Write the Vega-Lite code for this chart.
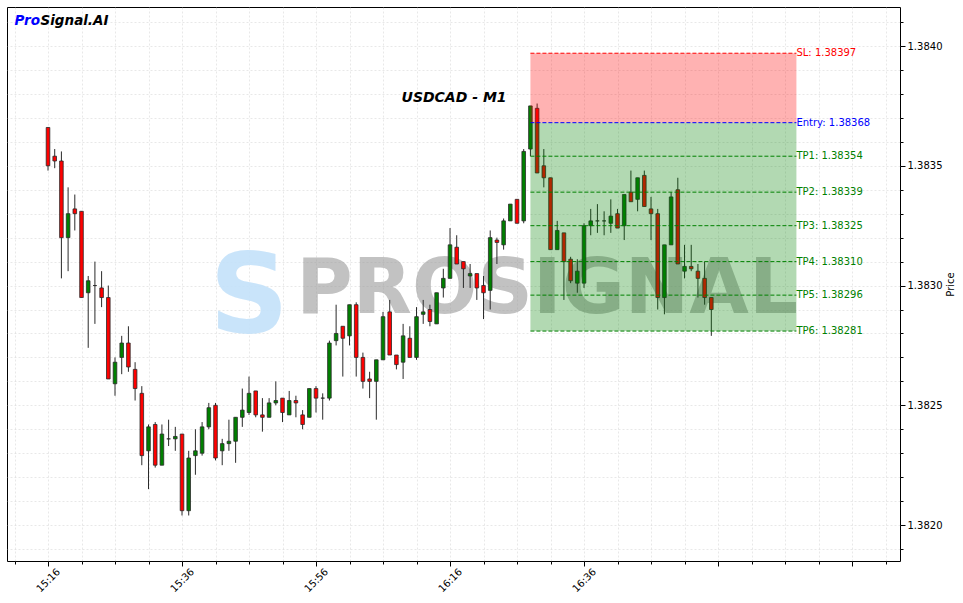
{
  "$schema": "https://vega.github.io/schema/vega-lite/v6.json",
  "width": 893,
  "height": 554,
  "autosize": {"type": "none"},
  "padding": {"left": 7, "top": 7, "right": 63, "bottom": 42},
  "background": "white",
  "config": {
    "view": {"stroke": "#000000", "strokeWidth": 1},
    "font": "DejaVu Sans",
    "axis": {"labelFont": "DejaVu Sans", "titleFont": "DejaVu Sans", "labelColor": "#000", "titleColor": "#000", "tickColor": "#000", "labelFontSize": 10, "titleFontSize": 10}
  },
  "datasets": {
    "candles": [
      {"i":0,"open":1.38366,"high":1.38366,"low":1.38348,"close":1.38350},
      {"i":1,"open":1.38354,"high":1.38357,"low":1.38349,"close":1.38352},
      {"i":2,"open":1.38352,"high":1.38356,"low":1.38303,"close":1.38320},
      {"i":3,"open":1.38320,"high":1.38341,"low":1.38306,"close":1.38330},
      {"i":4,"open":1.38332,"high":1.38338,"low":1.38323,"close":1.38330},
      {"i":5,"open":1.38331,"high":1.38331,"low":1.38295,"close":1.38295},
      {"i":6,"open":1.38297,"high":1.38304,"low":1.38274,"close":1.38302},
      {"i":7,"open":1.38300,"high":1.38310,"low":1.38284,"close":1.38300},
      {"i":8,"open":1.38299,"high":1.38306,"low":1.38291,"close":1.38295},
      {"i":9,"open":1.38295,"high":1.38300,"low":1.38261,"close":1.38261},
      {"i":10,"open":1.38259,"high":1.38270,"low":1.38254,"close":1.38268},
      {"i":11,"open":1.38270,"high":1.38279,"low":1.38263,"close":1.38276},
      {"i":12,"open":1.38276,"high":1.38283,"low":1.38264,"close":1.38266},
      {"i":13,"open":1.38265,"high":1.38268,"low":1.38252,"close":1.38257},
      {"i":14,"open":1.38255,"high":1.38258,"low":1.38225,"close":1.38229},
      {"i":15,"open":1.38231,"high":1.38242,"low":1.38215,"close":1.38241},
      {"i":16,"open":1.38242,"high":1.38243,"low":1.38224,"close":1.38225},
      {"i":17,"open":1.38225,"high":1.38242,"low":1.38225,"close":1.38238},
      {"i":18,"open":1.38236,"high":1.38244,"low":1.38233,"close":1.38236},
      {"i":19,"open":1.38236,"high":1.38241,"low":1.38231,"close":1.38237},
      {"i":20,"open":1.38238,"high":1.38238,"low":1.38204,"close":1.38206},
      {"i":21,"open":1.38206,"high":1.38231,"low":1.38204,"close":1.38228},
      {"i":22,"open":1.38229,"high":1.38240,"low":1.38221,"close":1.38231},
      {"i":23,"open":1.38230,"high":1.38243,"low":1.38229,"close":1.38241},
      {"i":24,"open":1.38241,"high":1.38251,"low":1.38240,"close":1.38249},
      {"i":25,"open":1.38250,"high":1.38251,"low":1.38227,"close":1.38228},
      {"i":26,"open":1.38231,"high":1.38236,"low":1.38225,"close":1.38234},
      {"i":27,"open":1.38234,"high":1.38244,"low":1.38231,"close":1.38235},
      {"i":28,"open":1.38235,"high":1.38245,"low":1.38226,"close":1.38245},
      {"i":29,"open":1.38245,"high":1.38257,"low":1.38241,"close":1.38248},
      {"i":30,"open":1.38247,"high":1.38262,"low":1.38246,"close":1.38255},
      {"i":31,"open":1.38256,"high":1.38256,"low":1.38245,"close":1.38246},
      {"i":32,"open":1.38246,"high":1.38253,"low":1.38239,"close":1.38245},
      {"i":33,"open":1.38245,"high":1.38253,"low":1.38245,"close":1.38251},
      {"i":34,"open":1.38251,"high":1.38260,"low":1.38250,"close":1.38252},
      {"i":35,"open":1.38253,"high":1.38253,"low":1.38243,"close":1.38247},
      {"i":36,"open":1.38246,"high":1.38256,"low":1.38246,"close":1.38252},
      {"i":37,"open":1.38252,"high":1.38254,"low":1.38245,"close":1.38251},
      {"i":38,"open":1.38246,"high":1.38248,"low":1.38240,"close":1.38242},
      {"i":39,"open":1.38245,"high":1.38257,"low":1.38245,"close":1.38257},
      {"i":40,"open":1.38257,"high":1.38258,"low":1.38247,"close":1.38253},
      {"i":41,"open":1.38253,"high":1.38255,"low":1.38244,"close":1.38253},
      {"i":42,"open":1.38253,"high":1.38277,"low":1.38252,"close":1.38276},
      {"i":43,"open":1.38277,"high":1.38292,"low":1.38275,"close":1.38280},
      {"i":44,"open":1.38283,"high":1.38283,"low":1.38262,"close":1.38278},
      {"i":45,"open":1.38279,"high":1.38292,"low":1.38275,"close":1.38292},
      {"i":46,"open":1.38292,"high":1.38293,"low":1.38262,"close":1.38270},
      {"i":47,"open":1.38270,"high":1.38272,"low":1.38257,"close":1.38260},
      {"i":48,"open":1.38261,"high":1.38264,"low":1.38253,"close":1.38260},
      {"i":49,"open":1.38260,"high":1.38269,"low":1.38244,"close":1.38269},
      {"i":50,"open":1.38269,"high":1.38289,"low":1.38269,"close":1.38287},
      {"i":51,"open":1.38289,"high":1.38294,"low":1.38271,"close":1.38271},
      {"i":52,"open":1.38271,"high":1.38271,"low":1.38265,"close":1.38267},
      {"i":53,"open":1.38268,"high":1.38284,"low":1.38261,"close":1.38279},
      {"i":54,"open":1.38278,"high":1.38283,"low":1.38270,"close":1.38270},
      {"i":55,"open":1.38270,"high":1.38291,"low":1.38269,"close":1.38287},
      {"i":56,"open":1.38288,"high":1.38294,"low":1.38284,"close":1.38289},
      {"i":57,"open":1.38290,"high":1.38292,"low":1.38283,"close":1.38285},
      {"i":58,"open":1.38284,"high":1.38297,"low":1.38284,"close":1.38297},
      {"i":59,"open":1.38299,"high":1.38307,"low":1.38295,"close":1.38303},
      {"i":60,"open":1.38303,"high":1.38324,"low":1.38303,"close":1.38317},
      {"i":61,"open":1.38316,"high":1.38321,"low":1.38309,"close":1.38309},
      {"i":62,"open":1.38310,"high":1.38310,"low":1.38299,"close":1.38307},
      {"i":63,"open":1.38304,"high":1.38309,"low":1.38299,"close":1.38305},
      {"i":64,"open":1.38305,"high":1.38305,"low":1.38294,"close":1.38299},
      {"i":65,"open":1.38300,"high":1.38304,"low":1.38286,"close":1.38297},
      {"i":66,"open":1.38298,"high":1.38323,"low":1.38290,"close":1.38320},
      {"i":67,"open":1.38319,"high":1.38320,"low":1.38309,"close":1.38318},
      {"i":68,"open":1.38317,"high":1.38328,"low":1.38315,"close":1.38327},
      {"i":69,"open":1.38327,"high":1.38334,"low":1.38327,"close":1.38334},
      {"i":70,"open":1.38336,"high":1.38336,"low":1.38326,"close":1.38326},
      {"i":71,"open":1.38327,"high":1.38357,"low":1.38326,"close":1.38356},
      {"i":72,"open":1.38357,"high":1.38375,"low":1.38354,"close":1.38375},
      {"i":73,"open":1.38374,"high":1.38376,"low":1.38347,"close":1.38347},
      {"i":74,"open":1.38350,"high":1.38357,"low":1.38341,"close":1.38345},
      {"i":75,"open":1.38345,"high":1.38345,"low":1.38315,"close":1.38315},
      {"i":76,"open":1.38315,"high":1.38327,"low":1.38315,"close":1.38323},
      {"i":77,"open":1.38322,"high":1.38322,"low":1.38294,"close":1.38310},
      {"i":78,"open":1.38311,"high":1.38312,"low":1.38301,"close":1.38302},
      {"i":79,"open":1.38301,"high":1.38311,"low":1.38297,"close":1.38306},
      {"i":80,"open":1.38301,"high":1.38326,"low":1.38299,"close":1.38325},
      {"i":81,"open":1.38325,"high":1.38332,"low":1.38321,"close":1.38327},
      {"i":82,"open":1.38327,"high":1.38334,"low":1.38322,"close":1.38327},
      {"i":83,"open":1.38327,"high":1.38331,"low":1.38321,"close":1.38327},
      {"i":84,"open":1.38326,"high":1.38336,"low":1.38322,"close":1.38329},
      {"i":85,"open":1.38330,"high":1.38332,"low":1.38324,"close":1.38324},
      {"i":86,"open":1.38325,"high":1.38338,"low":1.38319,"close":1.38338},
      {"i":87,"open":1.38339,"high":1.38348,"low":1.38335,"close":1.38335},
      {"i":88,"open":1.38336,"high":1.38345,"low":1.38331,"close":1.38345},
      {"i":89,"open":1.38346,"high":1.38348,"low":1.38333,"close":1.38333},
      {"i":90,"open":1.38332,"high":1.38337,"low":1.38319,"close":1.38330},
      {"i":91,"open":1.38330,"high":1.38332,"low":1.38290,"close":1.38295},
      {"i":92,"open":1.38295,"high":1.38317,"low":1.38288,"close":1.38317},
      {"i":93,"open":1.38317,"high":1.38339,"low":1.38317,"close":1.38337},
      {"i":94,"open":1.38340,"high":1.38345,"low":1.38309,"close":1.38309},
      {"i":95,"open":1.38306,"high":1.38317,"low":1.38303,"close":1.38308},
      {"i":96,"open":1.38308,"high":1.38317,"low":1.38306,"close":1.38307},
      {"i":97,"open":1.38306,"high":1.38309,"low":1.38295,"close":1.38303},
      {"i":98,"open":1.38303,"high":1.38310,"low":1.38292,"close":1.38295},
      {"i":99,"open":1.38295,"high":1.38295,"low":1.38279,"close":1.38290}
    ],
    "levels": [
      {"name":"SL","price":1.38397,"label":"SL: 1.38397","color":"#ff0000"},
      {"name":"Entry","price":1.38368,"label":"Entry: 1.38368","color":"#0000ff"},
      {"name":"TP1","price":1.38354,"label":"TP1: 1.38354","color":"#008000"},
      {"name":"TP2","price":1.38339,"label":"TP2: 1.38339","color":"#008000"},
      {"name":"TP3","price":1.38325,"label":"TP3: 1.38325","color":"#008000"},
      {"name":"TP4","price":1.38310,"label":"TP4: 1.38310","color":"#008000"},
      {"name":"TP5","price":1.38296,"label":"TP5: 1.38296","color":"#008000"},
      {"name":"TP6","price":1.38281,"label":"TP6: 1.38281","color":"#008000"}
    ],
    "zones": [
      {"zone":"risk","from":1.38368,"to":1.38397,"color":"#ff0000"},
      {"zone":"reward","from":1.38281,"to":1.38368,"color":"#008000"}
    ]
  },
  "layer": [
    {
      "data": {"values": [{"t": "PROSIGNAL"}]},
      "mark": {"type": "text", "font": "DejaVu Sans", "fontWeight": "bold", "fontSize": 77, "align": "center", "baseline": "alphabetic", "color": "#9a9a9a", "opacity": 0.6},
      "encoding": {
        "x": {"datum": 74.5},
        "y": {"datum": 1.382885},
        "text": {"field": "t"}
      }
    },
    {
      "data": {"values": [{"t": "S"}]},
      "mark": {"type": "text", "font": "DejaVu Sans", "fontWeight": "bold", "fontSize": 110, "align": "center", "baseline": "alphabetic", "color": "#c4e2fa", "opacity": 0.9},
      "encoding": {
        "x": {"datum": 30},
        "y": {"datum": 1.382806},
        "text": {"field": "t"}
      }
    },
    {
      "data": {"name": "candles"},
      "mark": {"type": "rule", "color": "#2a2a2a", "strokeWidth": 1},
      "encoding": {
        "x": {
          "field": "i", "type": "quantitative",
          "scale": {"domain": [-6.12, 127.16], "nice": false, "zero": false, "padding": 0},
          "axis": {
            "title": null,
            "values": [-5,0,5,10,15,20,25,30,35,40,45,50,55,60,65,70,75,80,85,90,95,100,105,110,115,120,125],
            "tickCount": 200,
            "labelExpr": "(datum.value >= 0 && datum.value < 100 && datum.value % 20 == 0) ? (floor((916 + datum.value) / 60) + ':' + ((916 + datum.value) % 60)) : ''",
            "tickSize": {"condition": {"test": "datum.value % 20 == 0", "value": 5}, "value": 3},
            "labelAngle": 315,
            "labelAlign": "center",
            "labelBaseline": "middle",
            "labelPadding": 14,
            "labelOverlap": false,
            "labelFlush": false,
            "domain": false,
            "grid": true,
            "gridColor": "#cfcfcf",
            "gridOpacity": 0.6,
            "gridDash": [2, 2],
            "gridWidth": 0.8
          }
        },
        "y": {
          "field": "low", "type": "quantitative",
          "scale": {"domain": [1.38185, 1.384163], "nice": false, "zero": false, "padding": 0},
          "axis": {
            "orient": "right",
            "title": "Price",
            "titleAngle": 270,
            "titleFontWeight": "normal",
            "titlePadding": 14,
            "values": [1.3819,1.382,1.3821,1.3822,1.3823,1.3824,1.3825,1.3826,1.3827,1.3828,1.3829,1.383,1.3831,1.3832,1.3833,1.3834,1.3835,1.3836,1.3837,1.3838,1.3839,1.384,1.3841],
            "tickCount": 200,
            "labelExpr": "abs(datum.value * 2000 - round(datum.value * 2000)) < 0.01 ? format(datum.value, '.4f') : ''",
            "tickSize": {"condition": {"test": "abs(datum.value * 2000 - round(datum.value * 2000)) < 0.01", "value": 5}, "value": 3},
            "labelPadding": 2,
            "labelOverlap": false,
            "labelFlush": false,
            "domain": false,
            "grid": true,
            "gridColor": "#cfcfcf",
            "gridOpacity": 0.6,
            "gridDash": [2, 2],
            "gridWidth": 0.8
          }
        },
        "y2": {"field": "high"}
      }
    },
    {
      "data": {"name": "candles"},
      "mark": {"type": "bar", "width": 3.6, "stroke": "#2a2a2a", "strokeWidth": 0.8},
      "encoding": {
        "x": {"field": "i", "type": "quantitative"},
        "y": {"field": "open", "type": "quantitative"},
        "y2": {"field": "close"},
        "fill": {"condition": {"test": "datum.close >= datum.open", "value": "#008000"}, "value": "#ff0000"}
      }
    },
    {
      "data": {"name": "zones"},
      "mark": {"type": "rect", "opacity": 0.3},
      "encoding": {
        "x": {"datum": 72},
        "x2": {"datum": 111.7},
        "y": {"field": "from", "type": "quantitative"},
        "y2": {"field": "to"},
        "fill": {"field": "color", "type": "nominal", "scale": null}
      }
    },
    {
      "data": {"name": "levels"},
      "mark": {"type": "rule", "strokeDash": [4, 2], "strokeWidth": 1},
      "encoding": {
        "x": {"datum": 72},
        "x2": {"datum": 111.7},
        "y": {"field": "price", "type": "quantitative"},
        "color": {"field": "color", "type": "nominal", "scale": null}
      }
    },
    {
      "data": {"name": "levels"},
      "mark": {"type": "text", "align": "left", "baseline": "middle", "fontSize": 10, "font": "DejaVu Sans"},
      "encoding": {
        "x": {"datum": 111.7},
        "y": {"field": "price", "type": "quantitative"},
        "text": {"field": "label"},
        "color": {"field": "color", "type": "nominal", "scale": null}
      }
    },
    {
      "data": {"values": [{"t": "USDCAD - M1"}]},
      "mark": {"type": "text", "align": "center", "baseline": "alphabetic", "fontSize": 14, "fontWeight": "bold", "fontStyle": "italic", "font": "DejaVu Sans", "color": "#000"},
      "encoding": {
        "x": {"datum": 60.6},
        "y": {"datum": 1.383766},
        "text": {"field": "t"}
      }
    },
    {
      "data": {"values": [{"t": "Pro"}]},
      "mark": {"type": "text", "align": "left", "baseline": "alphabetic", "fontSize": 13.5, "fontWeight": "bold", "fontStyle": "italic", "font": "DejaVu Sans", "color": "#0000ff"},
      "encoding": {
        "x": {"datum": -5},
        "y": {"datum": 1.384088},
        "text": {"field": "t"}
      }
    },
    {
      "data": {"values": [{"t": "Signal.AI"}]},
      "mark": {"type": "text", "align": "left", "baseline": "alphabetic", "fontSize": 13.5, "fontWeight": "bold", "fontStyle": "italic", "font": "DejaVu Sans", "color": "#000000", "dx": 26},
      "encoding": {
        "x": {"datum": -5},
        "y": {"datum": 1.384088},
        "text": {"field": "t"}
      }
    }
  ]
}
